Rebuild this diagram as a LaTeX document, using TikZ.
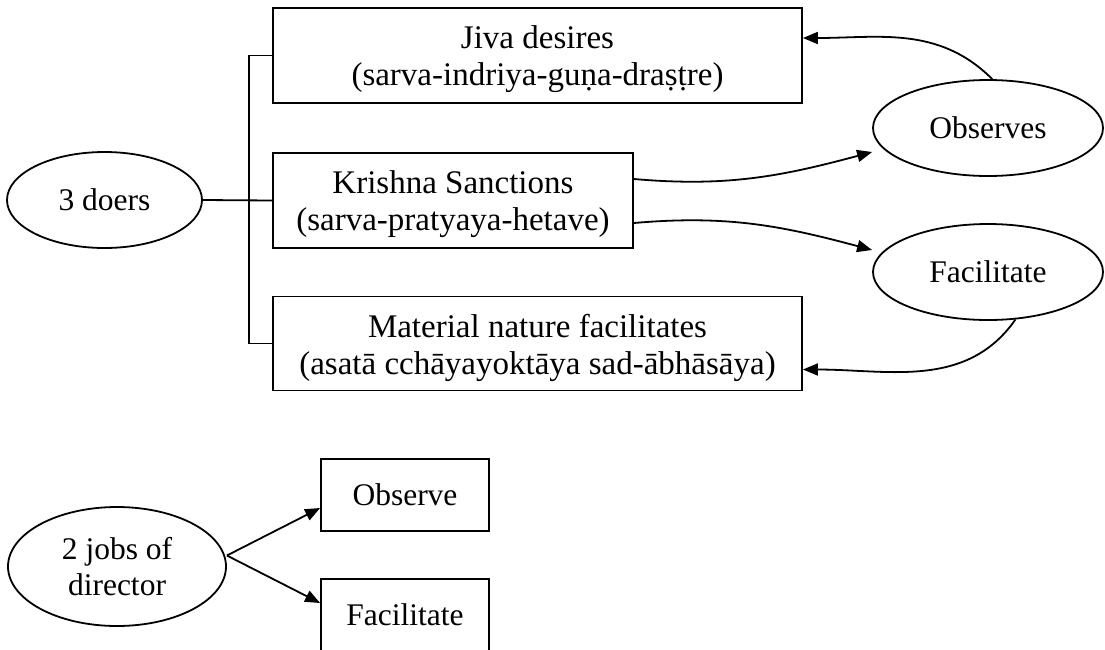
\documentclass[tikz,border=0pt]{standalone}
\usepackage{fontspec}
\setmainfont{Liberation Serif}
\usetikzlibrary{arrows.meta,positioning,shapes.geometric}
\tikzset{
  actor/.style={draw, line width=1.8pt, rectangle, inner sep=0pt},
  job/.style={actor, minimum width=168pt, minimum height=72pt,
              font=\fontsize{31.5}{36}\selectfont},
  oval/.style={draw, line width=1.8pt, ellipse, inner sep=0pt, align=center,
               font=\fontsize{31.5}{36}\selectfont},
  caption/.style={align=center, inner sep=0pt, font=\fontsize{33}{37}\selectfont},
  flow/.style={-{Triangle[length=15pt,width=12pt]}, line width=1.8pt},
  link/.style={line width=1.8pt},
}
\begin{document}
\begin{tikzpicture}[x=1pt,y=-1pt]
\clip (0,0) rectangle (1105,649);
\node[actor, minimum width=529pt, minimum height=95pt] (jiva) at (537.5,55.5) {};
\node[caption] (jivatxt) at ([yshift=-4pt]jiva.center) {Jiva desires\\(sarva-indriya-guṇa-draṣṭre)};
\node[actor, minimum width=360pt, minimum height=95pt] (krishna) at (453,200.5) {};
\node[caption] (krishnatxt) at ([yshift=-4pt]krishna.center) {Krishna Sanctions\\(sarva-pratyaya-hetave)};
\node[actor, minimum width=529pt, minimum height=94pt] (nature) at (537.5,343.5) {};
\node[caption] (naturetxt) at ([yshift=-4pt]nature.center) {Material nature facilitates\\(asatā cchāyayoktāya sad-ābhāsāya)};

\node[oval, minimum width=195pt, minimum height=96pt] (doers) at (104.5,200) {3 doers};
\node[oval, minimum width=230pt, minimum height=96pt] (observes) at (988,128) {Observes};
\node[oval, minimum width=230pt, minimum height=96pt] (facil) at (988,272) {Facilitate};
\coordinate (fork) at (249,200);

\draw[link] (doers.east) -- (krishna.west);
\draw[link] (jiva.west) -| (fork) |- (nature.west);

\draw[flow] (observes.85) to[out=135,in=0] ([yshift=17.5pt]jiva.east);
\draw[flow] ([yshift=21.5pt]krishna.east) to[out=-5,in=195] ([yshift=-24pt]observes.west);
\draw[flow] ([yshift=-22.5pt]krishna.east) to[out=5,in=165] ([yshift=22pt]facil.west);
\draw[flow] (facil.-60) to[out=235,in=0] ([yshift=-26pt]nature.east);

\node[oval, minimum width=218pt, minimum height=119pt] (jobs) at (117,566.5) {2 jobs of\\director};
\node[job] (observe) at (405,495) {Observe};
\node[job] (facilitate) at (405,615) {Facilitate};

\draw[flow] ([yshift=11pt]jobs.east) -- ([yshift=-13pt]observe.west);
\draw[flow] ([yshift=11pt]jobs.east) -- ([yshift=12pt]facilitate.west);
\end{tikzpicture}
\end{document}
